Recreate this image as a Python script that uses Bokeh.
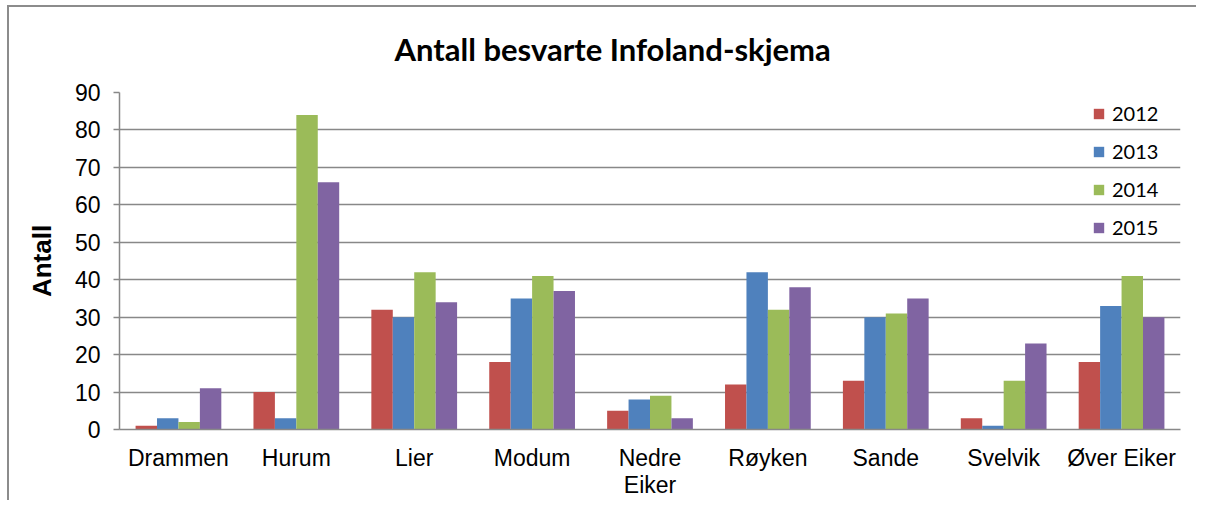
from bokeh.plotting import figure
from bokeh.layouts import column
from bokeh.models import (FactorRange, Range1d, Legend, LegendItem, CategoricalAxis,
                          ColumnDataSource, FixedTicker, CustomJSTickFormatter)
from bokeh.transform import dodge
from bokeh.embed import file_html
from bokeh.resources import INLINE

# ---- data ----
categories = ["Drammen", "Hurum", "Lier", "Modum", "Nedre Eiker",
              "Røyken", "Sande", "Svelvik", "Øver Eiker"]
years = ["2012", "2013", "2014", "2015"]
v2012 = [1, 10, 32, 18, 5, 12, 13, 3, 18]
v2013 = [3, 3, 30, 35, 8, 42, 30, 1, 33]
v2014 = [2, 84, 42, 41, 9, 32, 31, 13, 41]
v2015 = [11, 66, 34, 37, 3, 38, 35, 23, 30]
y_ticks = [0, 10, 20, 30, 40, 50, 60, 70, 80, 90]
title_text = "Antall besvarte Infoland-skjema"
y_label = "Antall"
line1 = {"Nedre Eiker": "Nedre"}
line2 = {"Nedre Eiker": "Eiker"}

colors = ["#C0504D", "#4F81BD", "#9BBB59", "#8064A2"]

source = ColumnDataSource(dict(cat=categories, v2012=v2012, v2013=v2013,
                               v2014=v2014, v2015=v2015))

p = figure(x_range=FactorRange(*categories, range_padding=0),
           y_range=Range1d(0, 90),
           width=1196, height=500, output_backend="svg", toolbar_location=None,
           min_border_left=119, min_border_right=16,
           min_border_top=92, min_border_bottom=71)

bw = 1.0 / 5.5
offsets = [-1.5 * bw, -0.5 * bw, 0.5 * bw, 1.5 * bw]
renderers = []
for yr, col, off in zip(years, colors, offsets):
    r = p.vbar(x=dodge("cat", off, range=p.x_range), top="v" + yr, width=bw,
               source=source, fill_color=col, line_color=None)
    renderers.append(r)

legend = Legend(items=[LegendItem(label=yr, renderers=[r]) for yr, r in zip(years, renderers)],
                location=(973, 190), orientation="vertical",
                glyph_width=13, glyph_height=13, label_height=20, spacing=14,
                label_standoff=7, padding=0, margin=0,
                label_text_font="Lato", label_text_font_size="20px",
                label_text_color="#000000",
                background_fill_alpha=0, border_line_color=None)
p.add_layout(legend)

# title
p.title.text = title_text
p.title.text_font = "Lato"
p.title.text_font_style = "bold"
p.title.text_font_size = "31px"
p.title.text_color = "#000000"
p.title.align = "left"
p.title.offset = 275
p.title.standoff = 50

# axes
p.yaxis.ticker = FixedTicker(ticks=y_ticks)
p.yaxis.axis_label = y_label
p.yaxis.axis_label_text_font = "Liberation Sans"
p.yaxis.axis_label_text_font_style = "bold"
p.yaxis.axis_label_text_font_size = "26px"
p.yaxis.axis_label_standoff = 15
p.yaxis.major_label_text_font = "Liberation Sans"
p.yaxis.major_label_text_font_size = "23px"
p.yaxis.major_label_standoff = 13
p.yaxis.major_tick_out = 6
p.yaxis.major_tick_in = 0
p.yaxis.minor_tick_line_color = None
p.yaxis.axis_line_color = "#888888"
p.yaxis.axis_line_width = 1.5
p.yaxis.major_tick_line_color = "#888888"
p.yaxis.major_tick_line_width = 1.5
p.yaxis.major_label_text_color = "#000000"
p.yaxis.axis_label_text_color = "#000000"

xa = p.xaxis[0]
xa.formatter = CustomJSTickFormatter(args=dict(m=line1),
                                     code="return (tick in m) ? m[tick] : tick;")
xa.major_label_standoff = 9
xa.axis_line_color = "#888888"
xa.axis_line_width = 1.5
xa.major_tick_line_color = None

# second line of wrapped category labels
xa2 = CategoricalAxis(formatter=CustomJSTickFormatter(args=dict(m=line2),
                                                      code="return (tick in m) ? m[tick] : '';"))
xa2.axis_line_color = None
xa2.major_tick_line_color = None
xa2.minor_tick_line_color = None
xa2.major_label_standoff = -8
p.add_layout(xa2, "below")

for ax in (xa, xa2):
    ax.major_label_text_font = "Liberation Sans"
    ax.major_label_text_font_size = "23px"
    ax.major_label_text_color = "#000000"

p.xgrid.grid_line_color = None
p.ygrid.grid_line_color = "#888888"
p.ygrid.grid_line_width = 1.5
p.outline_line_color = None

# chart-area border (drawn by the wrapping layout, behind a transparent canvas border)
p.border_fill_color = None
p.background_fill_color = "#ffffff"
layout = column(p, width=1196, height=500)
layout.styles = {
    "background-color": "#ffffff",
    "background-image": "linear-gradient(#8c8c8c,#8c8c8c), linear-gradient(#8c8c8c,#8c8c8c)",
    "background-repeat": "no-repeat, no-repeat",
    "background-position": "7px 5px, 7px 5px",
    "background-size": "2px 2000px, 2000px 2px",
}

open("out.html", "w").write(file_html(layout, INLINE))
